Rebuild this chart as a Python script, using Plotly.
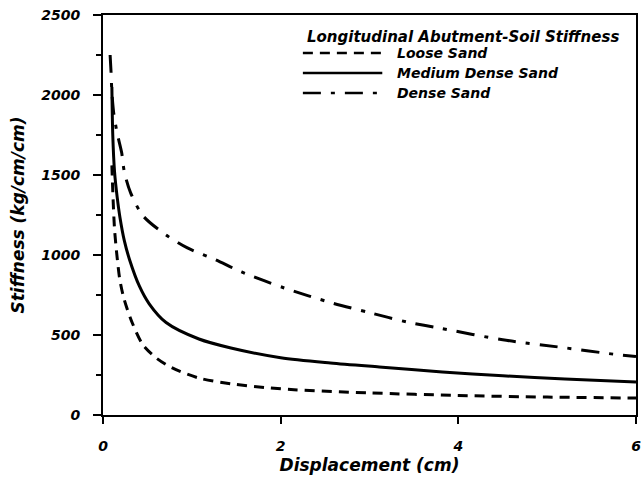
import plotly.graph_objects as go

# ---- data ----
loose_x = [0.1, 0.11, 0.13, 0.16, 0.19, 0.24, 0.33, 0.45, 0.6, 0.78, 1.08, 1.44, 1.82, 2.15, 3.0, 4.0, 5.0, 6.0]
loose_y = [1560, 1400, 1160, 980, 844, 719, 575, 438, 356, 294, 231, 195, 172, 158, 138, 122, 112, 106]

medium_x = [0.1, 0.11, 0.13, 0.16, 0.19, 0.24, 0.3, 0.41, 0.52, 0.71, 1.08, 1.44, 2.0, 2.56, 3.11, 3.82, 4.5, 5.2, 6.0]
medium_y = [2050, 1750, 1520, 1360, 1238, 1090, 969, 805, 695, 578, 475, 419, 358, 325, 300, 269, 245, 225, 206]

dense_x = [0.08, 0.09, 0.1, 0.12, 0.16, 0.21, 0.24, 0.31, 0.45, 0.71, 0.95, 1.27, 1.56, 2.04, 2.58, 3.0, 3.43, 3.78, 4.5, 5.2, 5.75, 6.0]
dense_y = [2250, 2150, 2020, 1890, 1760, 1640, 1520, 1390, 1245, 1125, 1044, 969, 894, 794, 700, 640, 580, 544, 470, 420, 380, 365]

series_names = ["Loose Sand", "Medium Dense Sand", "Dense Sand"]
legend_title = "Longitudinal Abutment-Soil Stiffness"
x_title = "Displacement (cm)"
y_title = "Stiffness (kg/cm/cm)"
x_ticks = [0, 2, 4, 6]
y_ticks = [0, 500, 1000, 1500, 2000, 2500]

FONT = "DejaVu Sans"
dashes = ["10px,7px", "solid", "18px,10px,4px,10px"]

fig = go.Figure()
for name, xs, ys, d in zip(series_names, [loose_x, medium_x, dense_x],
                           [loose_y, medium_y, dense_y], dashes):
    fig.add_trace(go.Scatter(x=xs, y=ys, mode="lines", name=name,
                             line=dict(color="black", width=3, dash=d, shape="spline", smoothing=0.8),
                             showlegend=False))

tickfont = dict(family=FONT, size=14, color="black", weight="bold", style="italic")
titlefont = dict(family=FONT, size=17, color="black", weight="bold", style="italic")

fig.update_xaxes(range=[0, 6], tickvals=x_ticks, ticktext=[str(v) for v in x_ticks],
                 showline=True, linecolor="black", linewidth=2, mirror=True,
                 ticks="outside", ticklen=7, tickwidth=2, tickcolor="black",
                 ticklabelstandoff=10, ticklabeloverflow="allow",
                 showgrid=False, zeroline=False, tickfont=tickfont,
                 title=dict(text=x_title, font=titlefont, standoff=6))
fig.update_yaxes(range=[0, 2500], tickvals=y_ticks, ticktext=[str(v) for v in y_ticks],
                 showline=True, linecolor="black", linewidth=2, mirror=True,
                 ticks="outside", ticklen=8, tickwidth=2, tickcolor="black",
                 ticklabelstandoff=10,
                 minor=dict(dtick=250, ticks="outside", ticklen=5, tickwidth=2, tickcolor="black"),
                 showgrid=False, zeroline=False, tickfont=tickfont,
                 title=dict(text=y_title, font=titlefont, standoff=12))

# ---- legend drawn as annotations + sample lines (paper coordinates) ----
legfont = dict(family=FONT, size=14, color="black", weight="bold", style="italic")
fig.add_annotation(x=0.379, y=0.945, xref="paper", yref="paper", text=legend_title,
                   showarrow=False, xanchor="left", yanchor="middle",
                   font=dict(family=FONT, size=15, color="black", weight="bold", style="italic"))
row_y = [0.905, 0.855, 0.805]
for name, d, ry in zip(series_names, dashes, row_y):
    fig.add_shape(type="line", xref="paper", yref="paper", x0=0.375, x1=0.524, y0=ry, y1=ry,
                  line=dict(color="black", width=2.5, dash=d))
    fig.add_annotation(x=0.548, y=ry, xref="paper", yref="paper", text=name, showarrow=False,
                       xanchor="left", yanchor="middle", font=legfont)

fig.update_layout(width=643, height=481, margin=dict(l=103, r=2, t=15, b=66),
                  plot_bgcolor="white", paper_bgcolor="white", showlegend=False)

fig.write_html("out.html")
